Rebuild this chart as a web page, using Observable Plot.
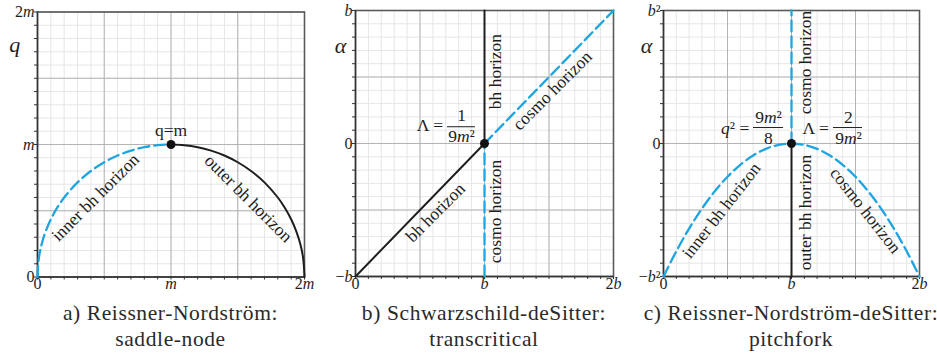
<!DOCTYPE html>
<html>
<head>
<meta charset="utf-8">
<script src="https://cdn.jsdelivr.net/npm/d3@7"></script>
<script src="https://cdn.jsdelivr.net/npm/@observablehq/plot@0.6"></script>
<style>
  body { margin: 0; background: #fff; }
  #wrap { position: relative; width: 937px; height: 356px; font-family: "Liberation Serif", serif; color: #2a2a2a; }
  .panel { position: absolute; top: 0; }
  .cap { position: absolute; top: 300px; text-align: center; font-size: 21.5px; letter-spacing: 0.6px; line-height: 26px; white-space: nowrap; }
</style>
</head>
<body>
<div id="wrap"></div>
<script>
// a) Reissner–Nordström horizons: charge q against radius r (in units of m)
const rnInnerR = [0, 0.01, 0.03, 0.06, 0.1, 0.15, 0.2, 0.3, 0.4, 0.5, 0.6, 0.7, 0.8, 0.9, 1.0];
const rnInnerQ = [0, 0.141, 0.243, 0.341, 0.436, 0.527, 0.6, 0.714, 0.8, 0.866, 0.917, 0.954, 0.98, 0.995, 1.0];
const rnOuterR = [1.0, 1.1, 1.2, 1.3, 1.4, 1.5, 1.6, 1.7, 1.8, 1.85, 1.9, 1.94, 1.97, 1.99, 2.0];
const rnOuterQ = [1.0, 0.995, 0.98, 0.954, 0.917, 0.866, 0.8, 0.714, 0.6, 0.527, 0.436, 0.341, 0.243, 0.141, 0];
const rnSaddle = {r: 1, q: 1};

// b) Schwarzschild–de Sitter horizons: alpha against radius (in units of b)
const sdsBhR = [0, 1, 1];
const sdsBhA = [-1, 0, 1];
const sdsCosmoLowR = [1, 1];
const sdsCosmoLowA = [-1, 0];
const sdsCosmoHighR = [1, 2];
const sdsCosmoHighA = [0, 1];
const sdsCrossing = {r: 1, a: 0};

// c) Reissner–Nordström–de Sitter horizons: alpha against radius (b, b²)
const rndsInnerR = [0, 0.1, 0.2, 0.3, 0.4, 0.5, 0.6, 0.7, 0.8, 0.9, 1.0];
const rndsInnerA = [-1, -0.81, -0.64, -0.49, -0.36, -0.25, -0.16, -0.09, -0.04, -0.01, 0];
const rndsCosmoR = [1.0, 1.1, 1.2, 1.3, 1.4, 1.5, 1.6, 1.7, 1.8, 1.9, 2.0];
const rndsCosmoA = [0, -0.01, -0.04, -0.09, -0.16, -0.25, -0.36, -0.49, -0.64, -0.81, -1];
const rndsOuterR = [1, 1];
const rndsOuterA = [-1, 0];
const rndsCosmoUpR = [1, 1];
const rndsCosmoUpA = [0, 1];
const rndsFork = {r: 1, a: 0};

// tick values and labels
const ticksA = [0, 1, 2];
const ticksB = [0, 1, 2];
const ticksAlpha = [-1, 0, 1];
const labelsAX = ["0", "m", "2m"];
const labelsAY = ["0", "m", "2m"];
const labelsBX = ["0", "b", "2b"];
const labelsBY = ["−b", "0", "b"];
const labelsCY = ["−b²", "0", "b²"];

const BLUE = "#1ea5e0";
const INK = "#1e1e1e";
const DASH = "11,5";

function panel(o) {
  const [x0, x1] = o.xDomain, [y0, y1] = o.yDomain;
  const minorX = d3.range(21).map(i => x0 + i * (x1 - x0) / 20);
  const minorY = d3.range(21).map(i => y0 + i * (y1 - y0) / 20);
  const majorX = d3.range(5).map(i => x0 + i * (x1 - x0) / 4);
  const majorY = d3.range(5).map(i => y0 + i * (y1 - y0) / 4);
  const math = {fontSize: 16, fontStyle: "italic", fill: INK};
  return Plot.plot({
    width: o.width, height: 300,
    marginLeft: o.ml, marginRight: o.mr, marginTop: o.mt, marginBottom: 300 - o.mt - o.ph,
    x: {domain: o.xDomain},
    y: {domain: o.yDomain},
    style: {overflow: "visible", fontFamily: "Liberation Serif, serif", background: "transparent"},
    marks: [
      Plot.ruleX(minorX, {stroke: "#e6e6e6", strokeWidth: 1}),
      Plot.ruleY(minorY, {stroke: "#e6e6e6", strokeWidth: 1}),
      Plot.ruleX(majorX, {stroke: "#b4b4b4", strokeWidth: 1}),
      Plot.ruleY(majorY, {stroke: "#b4b4b4", strokeWidth: 1}),
      Plot.frame({stroke: "#5a5a5a", strokeWidth: 1.6}),
      Plot.ruleX([x0], {stroke: "#333", strokeWidth: 1.4}),
      Plot.ruleY([y0], {stroke: "#333", strokeWidth: 1.4}),
      Plot.axisX(minorX, {tickSize: 3, tickFormat: () => "", label: null, stroke: "#333"}),
      Plot.axisY(minorY, {tickSize: 3, tickFormat: () => "", label: null, stroke: "#333"}),
      Plot.text(o.xTicks, {x: d => d, text: (d, i) => o.xLabels[i], frameAnchor: "bottom", dy: 12, ...math}),
      Plot.text(o.yTicks, {y: d => d, text: (d, i) => o.yLabels[i], frameAnchor: "left", dx: -3, textAnchor: "end", ...math}),
      Plot.text([o.axisLabel], {x: o.axisLabelAt[0], y: o.axisLabelAt[1], text: d => d, fontSize: 22, fontStyle: "italic", fill: INK}),
      ...o.marks
    ]
  });
}

const roman = {fontSize: 17.5, fill: INK};

const figA = panel({
  xDomain: [0, 2], yDomain: [0, 2], width: 314, ml: 37, mr: 10, mt: 11.5, ph: 265,
  xTicks: ticksA, xLabels: labelsAX, yTicks: ticksA, yLabels: labelsAY,
  axisLabel: "q", axisLabelAt: [-0.17, 1.75],
  marks: [
    Plot.line(rnInnerR, {x: rnInnerR, y: rnInnerQ, curve: "catmull-rom", stroke: BLUE, strokeWidth: 2.3, strokeDasharray: DASH}),
    Plot.line(rnOuterR, {x: rnOuterR, y: rnOuterQ, curve: "catmull-rom", stroke: INK, strokeWidth: 2}),
    Plot.dot([rnSaddle], {x: "r", y: "q", r: 4.5, fill: "#111"}),
    Plot.text(["q=m"], {x: rnSaddle.r, y: rnSaddle.q, dy: -14, text: d => d, ...roman}),
    Plot.text(["inner bh horizon"], {x: 0.434, y: 0.6, rotate: -45, text: d => d, ...roman}),
    Plot.text(["outer bh horizon"], {x: 1.58, y: 0.592, rotate: 45, text: d => d, ...roman})
  ]
});

const figB = panel({
  xDomain: [0, 2], yDomain: [-1, 1], width: 300, ml: 35, mr: 7, mt: 10, ph: 266,
  xTicks: ticksB, xLabels: labelsBX, yTicks: ticksAlpha, yLabels: labelsBY,
  axisLabel: "α", axisLabelAt: [-0.116, 0.737],
  marks: [
    Plot.line(sdsBhR, {x: sdsBhR, y: sdsBhA, stroke: INK, strokeWidth: 2}),
    Plot.line(sdsCosmoLowR, {x: sdsCosmoLowR, y: sdsCosmoLowA, stroke: BLUE, strokeWidth: 2.3, strokeDasharray: DASH}),
    Plot.line(sdsCosmoHighR, {x: sdsCosmoHighR, y: sdsCosmoHighA, stroke: BLUE, strokeWidth: 2.3, strokeDasharray: DASH}),
    Plot.dot([sdsCrossing], {x: "r", y: "a", r: 4.5, fill: "#111"}),
    Plot.text(["bh horizon"], {x: 0.62, y: -0.519, rotate: -45, text: d => d, ...roman}),
    Plot.text(["bh horizon"], {x: 1.085, y: 0.541, rotate: -90, text: d => d, ...roman}),
    Plot.text(["cosmo horizon"], {x: 1.527, y: 0.398, rotate: -45, text: d => d, ...roman}),
    Plot.text(["cosmo horizon"], {x: 1.085, y: -0.511, rotate: -90, text: d => d, ...roman}),
    Plot.text(["Λ ="], {x: 0.68, y: 0.135, textAnchor: "end", text: d => d, ...roman}),
    Plot.text(["1"], {x: 0.822, y: 0.211, text: d => d, ...roman}),
    Plot.ruleY([0.126], {x1: 0.713, x2: 0.93, stroke: INK, strokeWidth: 1}),
    Plot.text(["9m²"], {x: 0.822, y: 0.05, text: d => d, ...roman, fontStyle: "italic"})
  ]
});

const figC = panel({
  xDomain: [0, 2], yDomain: [-1, 1], width: 300, ml: 35, mr: 9, mt: 10, ph: 266,
  xTicks: ticksB, xLabels: labelsBX, yTicks: ticksAlpha, yLabels: labelsCY,
  axisLabel: "α", axisLabelAt: [-0.133, 0.737],
  marks: [
    Plot.line(rndsInnerR, {x: rndsInnerR, y: rndsInnerA, curve: "catmull-rom", stroke: BLUE, strokeWidth: 2.3, strokeDasharray: DASH}),
    Plot.line(rndsCosmoR, {x: rndsCosmoR, y: rndsCosmoA, curve: "catmull-rom", stroke: BLUE, strokeWidth: 2.3, strokeDasharray: DASH}),
    Plot.line(rndsOuterR, {x: rndsOuterR, y: rndsOuterA, stroke: INK, strokeWidth: 2}),
    Plot.line(rndsCosmoUpR, {x: rndsCosmoUpR, y: rndsCosmoUpA, stroke: BLUE, strokeWidth: 2.3, strokeDasharray: DASH}),
    Plot.dot([rndsFork], {x: "r", y: "a", r: 4.5, fill: "#111"}),
    Plot.text(["inner bh horizon"], {x: 0.453, y: -0.504, rotate: -52, text: d => d, ...roman}),
    Plot.text(["outer bh horizon"], {x: 1.109, y: -0.519, rotate: -90, text: d => d, ...roman}),
    Plot.text(["cosmo horizon"], {x: 1.109, y: 0.609, rotate: -90, text: d => d, ...roman}),
    Plot.text(["cosmo horizon"], {x: 1.578, y: -0.504, rotate: 52, text: d => d, ...roman}),
    Plot.text(["q² ="], {x: 0.67, y: 0.113, textAnchor: "end", text: d => d, ...roman, fontStyle: "italic"}),
    Plot.text(["9m²"], {x: 0.82, y: 0.195, text: d => d, ...roman, fontStyle: "italic"}),
    Plot.ruleY([0.12], {x1: 0.703, x2: 0.938, stroke: INK, strokeWidth: 1}),
    Plot.text(["8"], {x: 0.82, y: 0.04, text: d => d, ...roman}),
    Plot.text(["Λ ="], {x: 1.086, y: 0.113, textAnchor: "start", text: d => d, ...roman}),
    Plot.text(["2"], {x: 1.445, y: 0.195, text: d => d, ...roman}),
    Plot.ruleY([0.12], {x1: 1.328, x2: 1.555, stroke: INK, strokeWidth: 1}),
    Plot.text(["9m²"], {x: 1.445, y: 0.04, text: d => d, ...roman, fontStyle: "italic"})
  ]
});

// Math labels: letters in italic, digits and symbols upright
function typesetMath(svg) {
  svg.querySelectorAll('g[font-style="italic"] text').forEach(t => {
    const s = t.textContent;
    const parts = s.match(/[a-zα]+|[^a-zα]+/g) || [];
    t.textContent = "";
    for (const p of parts) {
      const ts = document.createElementNS("http://www.w3.org/2000/svg", "tspan");
      ts.textContent = p;
      ts.setAttribute("font-style", /[a-zα]/.test(p) ? "italic" : "normal");
      t.appendChild(ts);
    }
  });
}

const wrap = document.getElementById("wrap");
const layout = [
  {fig: figA, left: 0, capCenter: 170.5, cap: ["a) Reissner-Nordström:", "saddle-node"]},
  {fig: figB, left: 320, capCenter: 484, cap: ["b) Schwarzschild-deSitter:", "transcritical"]},
  {fig: figC, left: 628, capCenter: 791, cap: ["c) Reissner-Nordström-deSitter:", "pitchfork"]}
];
for (const p of layout) {
  typesetMath(p.fig);
  const holder = document.createElement("div");
  holder.className = "panel";
  holder.style.left = p.left + "px";
  holder.appendChild(p.fig);
  wrap.appendChild(holder);
  const cap = document.createElement("div");
  cap.className = "cap";
  cap.style.left = (p.capCenter - 160) + "px";
  cap.style.width = "320px";
  cap.innerHTML = p.cap.map(l => `<div>${l}</div>`).join("");
  wrap.appendChild(cap);
}
</script>
</body>
</html>
